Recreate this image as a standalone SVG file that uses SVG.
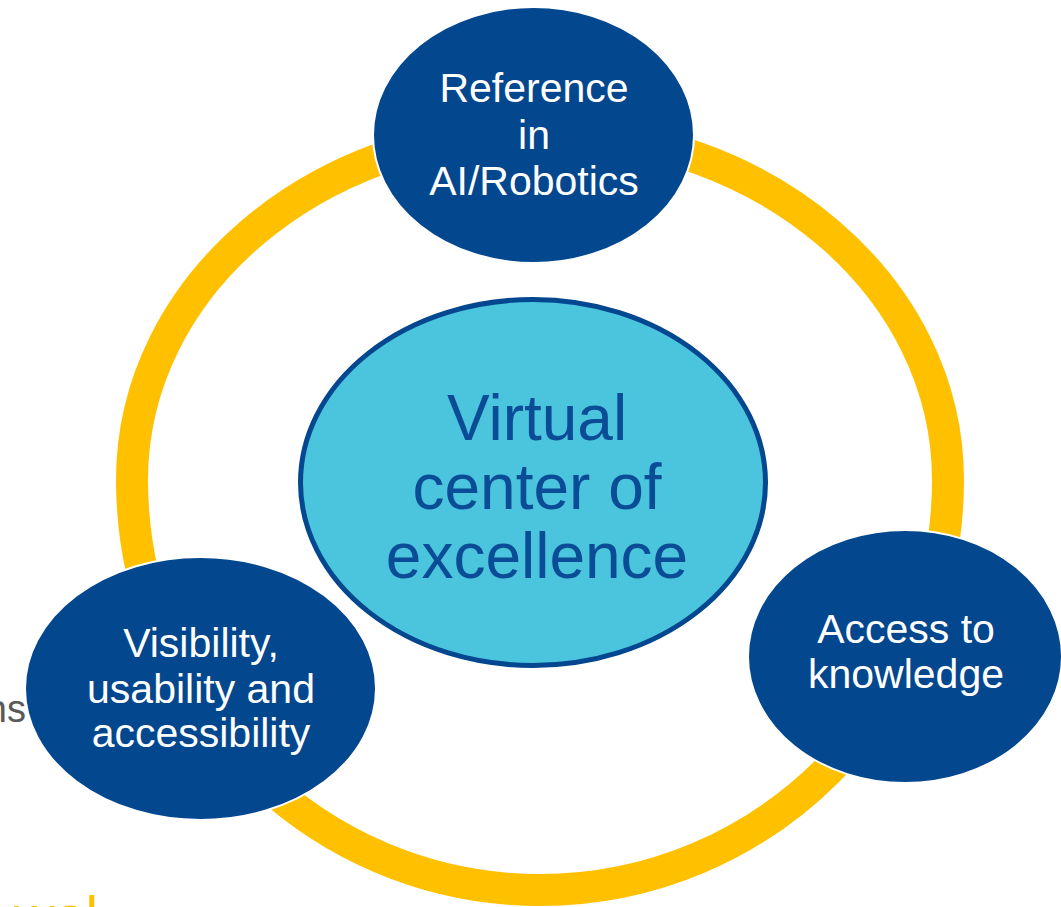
<svg xmlns="http://www.w3.org/2000/svg" width="1061" height="907" viewBox="0 0 1061 907">
  <style>
    .bg-text { font-family: "Liberation Sans", Arial, sans-serif; }
    .node { fill: #03478F; stroke: #ffffff; stroke-width: 2; }
    .node-text { font-family: "Liberation Sans", Arial, sans-serif; font-size: 41px; fill: #ffffff; text-anchor: middle; }
    .center { fill: #4BC4DD; stroke: #02478F; stroke-width: 5; }
    .center-text { font-family: "Liberation Sans", Arial, sans-serif; font-size: 64px; fill: #0B4C97; text-anchor: middle; }
    .ring { fill: none; stroke: #FFC000; stroke-width: 32; }
  </style>
  <rect width="1061" height="907" fill="#ffffff"/>
  <text class="bg-text" x="26" y="722" font-size="38" fill="#595959" text-anchor="end">ns</text>
  <text class="bg-text" x="98" y="935" font-size="56" fill="#FFC000" text-anchor="end">wal</text>
  <g id="connectors">
    <path class="ring" d="M540,131 C765.3,131 948,287 948,480 C948,706.4 765.3,890 540,890 C314.7,890 132,706.4 132,480 C132,287 314.7,131 540,131 Z"/>
  </g>
  <g id="node-center">
    <ellipse class="center" cx="533" cy="482.5" rx="232.5" ry="183"/>
    <text class="center-text" x="537" y="440">Virtual</text>
    <text class="center-text" x="537" y="509">center of</text>
    <text class="center-text" x="537" y="578">excellence</text>
  </g>
  <g id="node-top">
    <ellipse class="node" cx="533.5" cy="135" rx="160.5" ry="128"/>
    <text class="node-text" x="534" y="102">Reference</text>
    <text class="node-text" x="534" y="149">in</text>
    <text class="node-text" x="534" y="195">AI/Robotics</text>
  </g>
  <g id="node-right">
    <ellipse class="node" cx="905" cy="656.5" rx="157" ry="126.5"/>
    <text class="node-text" x="906" y="643">Access to</text>
    <text class="node-text" x="906" y="688">knowledge</text>
  </g>
  <g id="node-left">
    <ellipse class="node" cx="200.5" cy="688.5" rx="175.5" ry="131.5"/>
    <text class="node-text" x="201" y="657">Visibility,</text>
    <text class="node-text" x="201" y="703">usability and</text>
    <text class="node-text" x="201" y="747">accessibility</text>
  </g>
</svg>
